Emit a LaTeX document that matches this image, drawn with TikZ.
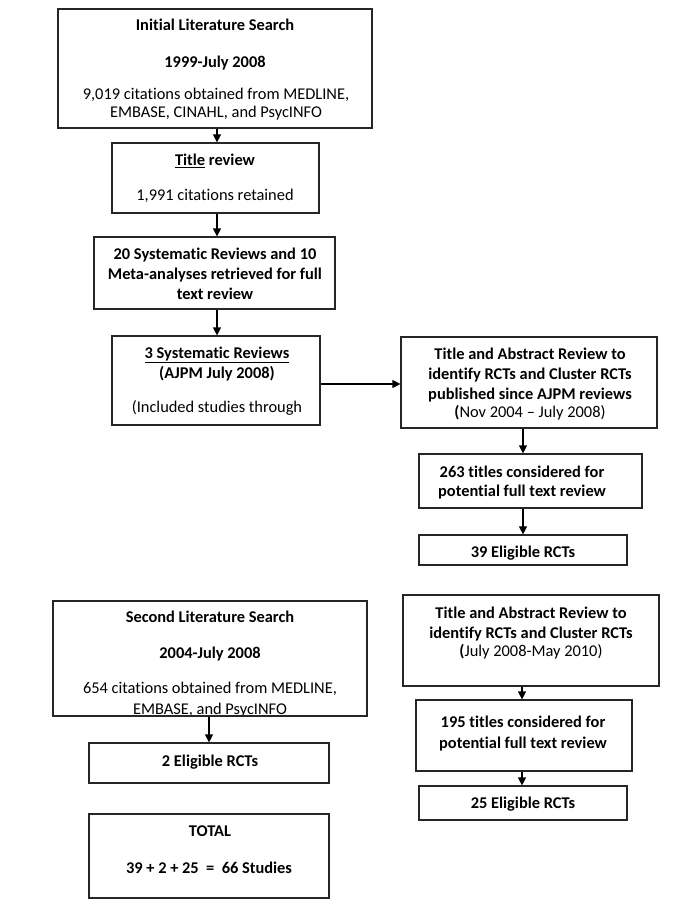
\documentclass[tikz,border=0pt]{standalone}
\usepackage{fontspec}
\setmainfont{Carlito}[Ligatures=NoCommon]
\usetikzlibrary{fit,arrows.meta}
\begin{document}
\begin{tikzpicture}[x=1pt,y=-1pt,
  box/.style={draw=black!85,line width=1.2pt,inner sep=0pt},
  lbl/.style={anchor=base,yshift=-5.5pt,inner sep=0pt,font=\fontsize{16.4}{19}\selectfont},
  arr/.style={line width=1.2pt,-{Triangle[length=8pt,width=8pt]}}]
\useasboundingbox[fill=white] (0,0) rectangle (685,908);
% boxes
\node[box,fit={(58,9) (372,128)}] (b1) {};
\node[box,fit={(112,143) (319,213)}] (b2) {};
\node[box,fit={(94,237) (335,309)}] (b3) {};
\node[box,fit={(112,336) (320,425)}] (b4) {};
\node[box,fit={(401,337) (657,428)}] (b5) {};
\node[box,fit={(419,454) (642,508)}] (b6) {};
\node[box,fit={(419,535) (627,565)}] (b7) {};
\node[box,fit={(89,743) (329,783)}] (b9) {};
\node[box,fit={(89,814) (329,898)}] (b10) {};
\node[box,fit={(403,595) (659,686)}] (b11) {};
\node[box,fit={(416,700) (632,771)}] (b12) {};
\node[box,fit={(419,786) (627,820)}] (b13) {};
% texts
\node[lbl] (t1a) at (215,25) {\textbf{Initial Literature Search}};
\node[lbl] (t1b) at (215,62) {\textbf{1999-July 2008}};
\node[lbl] (t1c) at (216,94) {9,019 citations obtained from MEDLINE,};
\node[lbl] (t1d) at (216,112) {EMBASE, CINAHL, and PsycINFO};
\node[lbl] (t2a) at (215,160) {\textbf{\underline{Title} review}};
\node[lbl] (t2b) at (215,195) {1,991 citations retained};
\node[lbl] (t3a) at (215,254) {\textbf{20 Systematic Reviews and 10}};
\node[lbl] (t3b) at (215,274) {\textbf{Meta-analyses retrieved for full}};
\node[lbl] (t3c) at (215,294) {\textbf{text review}};
\node[lbl] (t4a) at (217,353) {\textbf{\underline{3 Systematic Reviews}}};
\node[lbl] (t4b) at (217,373) {\textbf{(AJPM July 2008)}};
\node[lbl] (t4c) at (217,407) {(Included studies through};
\node[lbl] (t5a) at (530,354) {\textbf{Title and Abstract Review to}};
\node[lbl] (t5b) at (530,374) {\textbf{identify RCTs and Cluster RCTs}};
\node[lbl] (t5c) at (530,394) {\textbf{published since AJPM reviews}};
\node[lbl] (t5d) at (530,412) {\textbf{(}Nov 2004 – July 2008)};
\node[lbl] (t6a) at (522,472) {\textbf{263 titles considered for}};
\node[lbl] (t6b) at (522,491) {\textbf{potential full text review}};
\node[lbl] (t7a) at (523,552) {\textbf{39 Eligible RCTs}};
\begin{scope}
\clip (53,601) rectangle (367,715);
\node[lbl] (t8a) at (210,617) {\textbf{Second Literature Search}};
\node[lbl] (t8b) at (210,653) {\textbf{2004-July 2008}};
\node[lbl] (t8c) at (210,688) {654 citations obtained from MEDLINE,};
\node[lbl] (t8d) at (210,709) {EMBASE, and PsycINFO};
\end{scope}
\node[box,fit={(53,601) (367,716)}] (b8) {};
\node[lbl] (t9a) at (210,761) {\textbf{2 Eligible RCTs}};
\node[lbl] (t10a) at (210,831) {\textbf{TOTAL}};
\node[lbl] (t10b) at (209,868) {\textbf{39 + 2 + 25 \ = \ 66 Studies}};
\node[lbl] (t11a) at (531,613) {\textbf{Title and Abstract Review to}};
\node[lbl] (t11b) at (531,633) {\textbf{identify RCTs and Cluster RCTs}};
\node[lbl] (t11c) at (531,651) {\textbf{(}July 2008-May 2010)};
\node[lbl] (t12a) at (523,722) {\textbf{195 titles considered for}};
\node[lbl] (t12b) at (523,743) {\textbf{potential full text review}};
\node[lbl] (t13a) at (523,803) {\textbf{25 Eligible RCTs}};
% arrows
\draw[arr] (b1.south -| 217,0) -- (b2.north -| 217,0);
\draw[arr] (b2.south -| 217,0) -- (b3.north -| 217,0);
\draw[arr] (b3.south -| 217,0) -- (b4.north -| 217,0);
\draw[arr] (b4.east |- 0,384) -- (b5.west |- 0,384);
\draw[arr] (b5.south -| 523,0) -- (b6.north -| 523,0);
\draw[arr] (b6.south -| 523,0) -- (b7.north -| 523,0);
\draw[arr] (b8.south -| 209,0) -- (b9.north -| 209,0);
\draw[arr] (b11.south -| 522,0) -- (b12.north -| 522,0);
\draw[arr] (b12.south -| 522,0) -- (b13.north -| 522,0);
\end{tikzpicture}
\end{document}
